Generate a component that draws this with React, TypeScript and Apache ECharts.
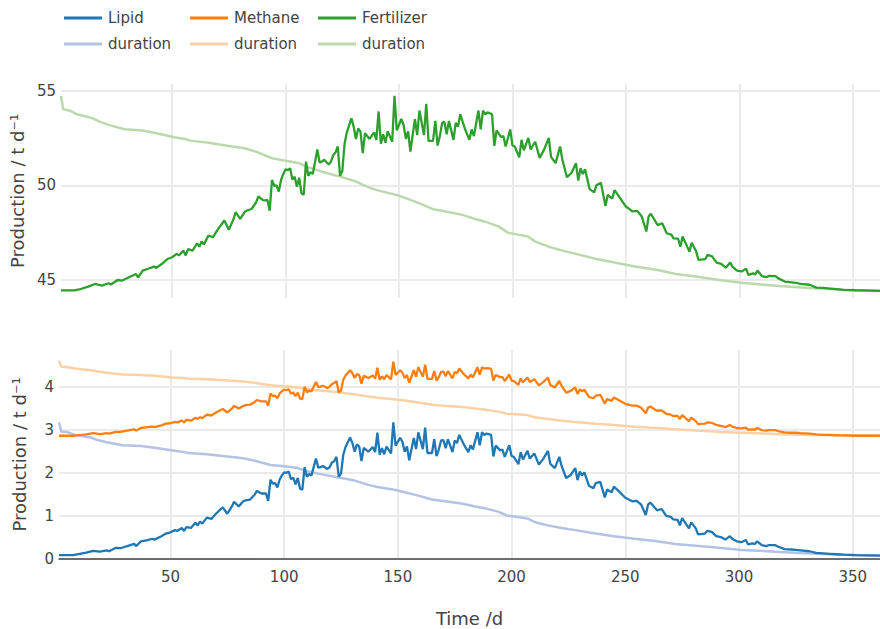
import React, { useEffect, useRef } from "react";
import * as echarts from "echarts";

// Time axis (days) of the daily production series
const days = [
  1, 7, 9, 13, 16, 19, 22, 23, 26, 28,
  31, 34, 35, 37, 40, 42, 43, 46, 48, 50,
  52, 53, 55, 56, 57, 59, 61, 62, 63, 64,
  66, 68, 70, 73, 75, 77, 78, 80, 82, 83,
  85, 87, 88, 90, 91, 92, 93, 94, 95, 96,
  97, 98, 99, 100, 101, 102, 103, 104, 105, 106,
  107, 108, 109, 110, 111, 112, 114, 115, 116, 117,
  119, 120, 121, 122, 123, 124, 125, 126, 127, 129,
  130, 131, 132, 133, 134, 135, 137, 139, 140, 141,
  142, 143, 144, 145, 147, 148, 149, 151, 152, 153,
  154, 155, 157, 158, 159, 161, 162, 163, 165, 166,
  167, 168, 169, 170, 171, 172, 174, 175, 176, 177,
  179, 181, 182, 183, 185, 186, 187, 188, 189, 191,
  192, 193, 195, 196, 197, 198, 199, 200, 201, 203,
  204, 205, 207, 208, 210, 212, 214, 216, 217, 219,
  221, 222, 224, 226, 228, 229, 230, 231, 232, 234,
  236, 237, 239, 241, 242, 244, 245, 247, 250, 252,
  253, 255, 257, 259, 260, 261, 263, 264, 266, 268,
  270, 271, 273, 274, 275, 278, 279, 281, 282, 285,
  286, 288, 290, 292, 294, 296, 297, 299, 301, 303,
  304, 306, 307, 308, 310, 312, 313, 316, 317, 320,
  323, 325, 327, 331, 334, 337, 340, 343, 346, 351,
  362,
];

const fertilizer = [
  44.45, 44.45, 44.5, 44.65, 44.79, 44.7, 44.83, 44.76, 45.0, 44.97,
  45.15, 45.32, 45.14, 45.5, 45.62, 45.71, 45.64, 45.9, 46.11, 46.2,
  46.38, 46.3, 46.55, 46.3, 46.63, 46.55, 46.94, 46.76, 47.04, 46.87,
  47.35, 47.26, 47.65, 48.14, 47.65, 48.2, 48.58, 48.23, 48.6, 48.67,
  48.75, 49.1, 49.42, 49.22, 49.2, 49.23, 48.66, 50.28, 49.97, 50.0,
  49.67, 50.28, 50.6, 50.85, 50.8, 50.9, 50.3, 50.45, 49.93, 50.4,
  49.58, 49.5, 51.25, 50.5, 50.7, 50.6, 51.9, 51.2, 51.25, 51.35,
  51.1, 51.25, 51.6, 51.73, 52.05, 50.5, 50.75, 52.2, 52.8, 53.54,
  53.1, 52.45, 53.0, 52.85, 51.7, 52.75, 52.45, 52.8, 52.4, 53.9,
  52.2, 52.7, 52.25, 52.85, 52.3, 54.72, 52.9, 53.5, 53.2, 52.45,
  52.85, 51.78, 53.5, 52.65, 53.95, 52.65, 54.3, 52.35, 52.35, 53.4,
  52.1, 52.6, 53.3, 53.35, 52.7, 53.4, 52.4, 53.3, 53.1, 53.75,
  53.0, 52.4, 52.95, 52.6, 53.95, 52.95, 53.95, 53.75, 53.85, 53.75,
  52.08, 52.9, 52.55, 52.6, 52.05, 52.5, 52.95, 52.1, 52.05, 51.48,
  52.4, 51.85, 52.5, 51.9, 52.3, 51.45, 51.9, 52.5, 51.5, 51.17,
  52.05, 51.35, 50.43, 50.65, 51.17, 50.25, 50.9, 50.6, 50.85, 49.8,
  49.63, 50.0, 50.13, 48.91, 49.5, 49.3, 49.75, 49.4, 48.88, 48.7,
  48.62, 48.65, 48.35, 47.56, 48.35, 48.5, 48.1, 47.9, 48.0, 47.47,
  47.4, 47.2, 47.18, 46.76, 47.3, 46.5, 46.97, 46.5, 46.06, 46.1,
  46.33, 46.25, 45.92, 45.85, 45.65, 45.92, 45.7, 45.5, 45.45, 45.6,
  45.27, 45.35, 45.3, 45.5, 45.2, 45.15, 45.22, 45.2, 45.1, 44.92,
  44.88, 44.85, 44.8, 44.75, 44.6, 44.58, 44.55, 44.52, 44.48, 44.46,
  44.43,
];

const lipid = [
  0.09, 0.09, 0.11, 0.15, 0.19, 0.17, 0.2, 0.18, 0.26, 0.25,
  0.3, 0.35, 0.3, 0.41, 0.44, 0.47, 0.45, 0.53, 0.59, 0.62,
  0.67, 0.65, 0.72, 0.65, 0.74, 0.72, 0.84, 0.78, 0.87, 0.82,
  0.96, 0.93, 1.05, 1.2, 1.05, 1.22, 1.33, 1.22, 1.34, 1.36,
  1.38, 1.49, 1.58, 1.52, 1.52, 1.52, 1.35, 1.84, 1.75, 1.76,
  1.66, 1.84, 1.94, 2.01, 2.0, 2.03, 1.85, 1.89, 1.73, 1.88,
  1.63, 1.61, 2.13, 1.91, 1.97, 1.94, 2.33, 2.12, 2.13, 2.16,
  2.09, 2.13, 2.24, 2.27, 2.37, 1.91, 1.98, 2.42, 2.6, 2.82,
  2.69, 2.49, 2.66, 2.61, 2.27, 2.58, 2.49, 2.6, 2.48, 2.93,
  2.42, 2.57, 2.43, 2.61, 2.45, 3.17, 2.63, 2.81, 2.72, 2.49,
  2.61, 2.29, 2.81, 2.55, 2.94, 2.55, 3.05, 2.46, 2.46, 2.78,
  2.39, 2.54, 2.75, 2.76, 2.57, 2.78, 2.48, 2.75, 2.69, 2.88,
  2.66, 2.48, 2.64, 2.54, 2.94, 2.64, 2.94, 2.88, 2.91, 2.88,
  2.38, 2.63, 2.52, 2.54, 2.37, 2.51, 2.64, 2.39, 2.37, 2.2,
  2.48, 2.31, 2.51, 2.33, 2.45, 2.19, 2.33, 2.51, 2.21, 2.11,
  2.37, 2.16, 1.88, 1.95, 2.11, 1.83, 2.03, 1.94, 2.01, 1.7,
  1.64, 1.76, 1.79, 1.43, 1.61, 1.55, 1.68, 1.58, 1.42, 1.37,
  1.34, 1.35, 1.26, 1.02, 1.26, 1.31, 1.19, 1.13, 1.16, 1.0,
  0.98, 0.92, 0.91, 0.78, 0.95, 0.71, 0.85, 0.71, 0.57, 0.59,
  0.65, 0.63, 0.53, 0.51, 0.45, 0.53, 0.47, 0.41, 0.39, 0.44,
  0.34, 0.36, 0.35, 0.41, 0.32, 0.3, 0.32, 0.32, 0.29, 0.23,
  0.22, 0.21, 0.2, 0.18, 0.14, 0.13, 0.12, 0.11, 0.1, 0.09,
  0.08,
];

const methane = [
  2.86, 2.86, 2.87, 2.89, 2.92, 2.9, 2.92, 2.91, 2.95, 2.95,
  2.98, 3.01, 2.98, 3.04, 3.06, 3.07, 3.06, 3.1, 3.14, 3.15,
  3.18, 3.17, 3.21, 3.17, 3.23, 3.21, 3.28, 3.25, 3.29, 3.27,
  3.35, 3.33, 3.4, 3.48, 3.4, 3.49, 3.55, 3.49, 3.55, 3.57,
  3.58, 3.64, 3.69, 3.66, 3.66, 3.66, 3.56, 3.84, 3.78, 3.79,
  3.73, 3.84, 3.89, 3.93, 3.92, 3.94, 3.84, 3.86, 3.78, 3.86,
  3.72, 3.71, 4.0, 3.87, 3.91, 3.89, 4.11, 3.99, 4.0, 4.02,
  3.97, 4.0, 4.06, 4.08, 4.13, 3.87, 3.91, 4.16, 4.26, 4.38,
  4.31, 4.2, 4.29, 4.27, 4.07, 4.25, 4.2, 4.26, 4.19, 4.44,
  4.16, 4.24, 4.17, 4.27, 4.17, 4.58, 4.27, 4.38, 4.32, 4.2,
  4.27, 4.09, 4.38, 4.23, 4.45, 4.23, 4.51, 4.18, 4.18, 4.36,
  4.14, 4.22, 4.34, 4.35, 4.24, 4.36, 4.19, 4.34, 4.31, 4.42,
  4.29, 4.19, 4.28, 4.22, 4.45, 4.28, 4.45, 4.42, 4.43, 4.42,
  4.14, 4.27, 4.22, 4.22, 4.13, 4.21, 4.28, 4.14, 4.13, 4.04,
  4.19, 4.1, 4.21, 4.11, 4.17, 4.03, 4.11, 4.21, 4.04, 3.98,
  4.13, 4.02, 3.86, 3.9, 3.98, 3.83, 3.94, 3.89, 3.93, 3.76,
  3.73, 3.79, 3.81, 3.61, 3.71, 3.67, 3.75, 3.69, 3.6, 3.57,
  3.56, 3.56, 3.51, 3.38, 3.51, 3.54, 3.47, 3.44, 3.45, 3.37,
  3.35, 3.32, 3.32, 3.25, 3.34, 3.2, 3.28, 3.2, 3.13, 3.14,
  3.17, 3.16, 3.11, 3.09, 3.06, 3.11, 3.07, 3.04, 3.03, 3.05,
  3.0, 3.01, 3.0, 3.04, 2.99, 2.98, 2.99, 2.99, 2.97, 2.94,
  2.93, 2.93, 2.92, 2.91, 2.89, 2.88, 2.88, 2.87, 2.87, 2.86,
  2.86,
];

// Duration curves (rank in days)
const durDays = [
  1, 2, 5, 8, 15, 18, 22, 29, 37, 43,
  51, 56, 58, 66, 75, 82, 88, 94, 100, 106,
  109, 116, 124, 131, 137, 141, 149, 153, 159, 165,
  169, 178, 184, 188, 194, 198, 207, 210, 216, 222,
  228, 237, 245, 254, 264, 272, 281, 291, 301, 316,
  331, 345, 362,
];

const fertilizerDuration = [
  54.72, 54.02, 53.94, 53.75, 53.54, 53.36, 53.19, 52.96, 52.89, 52.75,
  52.54, 52.43, 52.36, 52.25, 52.08, 51.96, 51.73, 51.43, 51.3, 51.17,
  50.99, 50.72, 50.46, 50.2, 49.88, 49.72, 49.49, 49.32, 49.05, 48.74,
  48.66, 48.44, 48.21, 48.08, 47.82, 47.5, 47.29, 47.03, 46.76, 46.55,
  46.38, 46.11, 45.92, 45.71, 45.53, 45.32, 45.18, 45.0, 44.86, 44.7,
  44.58, 44.49, 44.43,
];

const lipidDuration = [
  3.17, 2.96, 2.94, 2.88, 2.82, 2.76, 2.71, 2.64, 2.62, 2.58,
  2.52, 2.48, 2.46, 2.43, 2.38, 2.34, 2.27, 2.18, 2.15, 2.11,
  2.05, 1.97, 1.89, 1.82, 1.72, 1.67, 1.6, 1.55, 1.47, 1.38,
  1.35, 1.29, 1.22, 1.18, 1.1, 1.01, 0.94, 0.86, 0.78, 0.72,
  0.67, 0.59, 0.53, 0.47, 0.41, 0.35, 0.31, 0.26, 0.21, 0.17,
  0.13, 0.1, 0.08,
];

const methaneDuration = [
  4.6, 4.46, 4.45, 4.42, 4.38, 4.35, 4.32, 4.28, 4.27, 4.25,
  4.21, 4.2, 4.18, 4.17, 4.14, 4.12, 4.08, 4.03, 4.01, 3.98,
  3.95, 3.91, 3.87, 3.82, 3.77, 3.74, 3.7, 3.68, 3.63, 3.58,
  3.56, 3.53, 3.49, 3.47, 3.42, 3.37, 3.34, 3.29, 3.25, 3.21,
  3.18, 3.14, 3.11, 3.07, 3.04, 3.01, 2.98, 2.95, 2.93, 2.9,
  2.88, 2.87, 2.86,
];

const xTicks = [50, 100, 150, 200, 250, 300, 350];
const yTicksTop = [45, 50, 55];
const yTicksBottom = [0, 1, 2, 3, 4];

const legendItems = [
  { name: "Lipid", color: "#1f77b4", row: 0, col: 0 },
  { name: "Methane", color: "#ff7f0e", row: 0, col: 1 },
  { name: "Fertilizer", color: "#2ca02c", row: 0, col: 2 },
  { name: "duration", color: "#b4c2e4", row: 1, col: 0 },
  { name: "duration", color: "#fdd0a5", row: 1, col: 1 },
  { name: "duration", color: "#bcd9ae", row: 1, col: 2 },
];

const FONT = "DejaVu Sans";
const TEXT = "#444";
const GRID = "#ebebeb";

export default function App() {
  const ref = useRef<HTMLDivElement>(null);

  useEffect(() => {
    document.body.style.margin = "0";
    const chart = echarts.init(ref.current as HTMLDivElement, null, { renderer: "svg" });
    const pairs = (xs: number[], ys: number[]) => xs.map((x, i) => [x, ys[i]]);

    const colX = [64, 190, 318];
    const rowY = [18, 44];
    const graphics: any[] = [];
    legendItems.forEach((it) => {
      const x0 = colX[it.col];
      const y0 = rowY[it.row];
      graphics.push({
        type: "line",
        shape: { x1: x0, y1: y0, x2: x0 + 38, y2: y0 },
        style: { stroke: it.color, lineWidth: 3 },
      });
      graphics.push({
        type: "text",
        x: x0 + 44,
        y: y0,
        style: {
          text: it.name,
          fill: TEXT,
          font: `15px "${FONT}"`,
          verticalAlign: "middle",
          align: "left",
        },
      });
    });

    const yBase = (ticks: number[], min: number, max: number, gridIndex: number) => ({
      type: "value",
      gridIndex,
      min,
      max,
      name: "Production / t d\u207B\u00B9",
      nameLocation: "middle",
      nameGap: 31,
      nameTextStyle: { fontSize: 18, color: TEXT, fontFamily: FONT },
      axisLine: { show: false },
      axisTick: { show: false, customValues: ticks },
      axisLabel: {
        customValues: ticks,
        fontSize: 15,
        color: TEXT,
        fontFamily: FONT,
        margin: 5,
      },
      splitLine: { show: true, lineStyle: { color: GRID, width: 2 } },
    });

    const option: any = {
      animation: false,
      backgroundColor: "#fff",
      graphic: graphics,
      grid: [
        { left: 59, right: 0, top: 84, height: 214 },
        { left: 59, right: 0, top: 350, height: 209 },
      ],
      xAxis: [
        {
          type: "value",
          gridIndex: 0,
          min: 1,
          max: 362,
          axisLine: { show: false },
          axisTick: { show: false, customValues: xTicks },
          axisLabel: { show: false, customValues: xTicks },
          splitLine: { show: true, lineStyle: { color: GRID, width: 2 } },
        },
        {
          type: "value",
          gridIndex: 1,
          min: 1,
          max: 362,
          name: "Time /d",
          nameLocation: "middle",
          nameGap: 50,
          nameTextStyle: { fontSize: 18, color: TEXT, fontFamily: FONT },
          axisLine: { show: true, onZero: false, lineStyle: { color: "#444", width: 1.5 } },
          axisTick: { show: false, customValues: xTicks },
          axisLabel: {
            customValues: xTicks,
            fontSize: 15,
            color: TEXT,
            fontFamily: FONT,
            margin: 10,
          },
          splitLine: { show: true, lineStyle: { color: GRID, width: 2 } },
        },
      ],
      yAxis: [yBase(yTicksTop, 44.05, 55.35, 0), yBase(yTicksBottom, 0, 4.85, 1)],
      series: [
        {
          type: "line",
          name: "Fertilizer duration",
          xAxisIndex: 0,
          yAxisIndex: 0,
          data: pairs(durDays, fertilizerDuration),
          showSymbol: false,
          lineStyle: { color: "#bcd9ae", width: 2.5 },
          silent: true,
        },
        {
          type: "line",
          name: "Fertilizer",
          xAxisIndex: 0,
          yAxisIndex: 0,
          data: pairs(days, fertilizer),
          showSymbol: false,
          lineStyle: { color: "#2ca02c", width: 2.3 },
          silent: true,
        },
        {
          type: "line",
          name: "Lipid duration",
          xAxisIndex: 1,
          yAxisIndex: 1,
          data: pairs(durDays, lipidDuration),
          showSymbol: false,
          lineStyle: { color: "#b4c2e4", width: 2.5 },
          silent: true,
        },
        {
          type: "line",
          name: "Methane duration",
          xAxisIndex: 1,
          yAxisIndex: 1,
          data: pairs(durDays, methaneDuration),
          showSymbol: false,
          lineStyle: { color: "#fdd0a5", width: 2.5 },
          silent: true,
        },
        {
          type: "line",
          name: "Lipid",
          xAxisIndex: 1,
          yAxisIndex: 1,
          data: pairs(days, lipid),
          showSymbol: false,
          lineStyle: { color: "#1f77b4", width: 2.3 },
          silent: true,
        },
        {
          type: "line",
          name: "Methane",
          xAxisIndex: 1,
          yAxisIndex: 1,
          data: pairs(days, methane),
          showSymbol: false,
          lineStyle: { color: "#ff7f0e", width: 2.3 },
          silent: true,
        },
      ],
    };

    chart.setOption(option);
    return () => chart.dispose();
  }, []);

  return <div ref={ref} style={{ width: 880, height: 629 }} />;
}
